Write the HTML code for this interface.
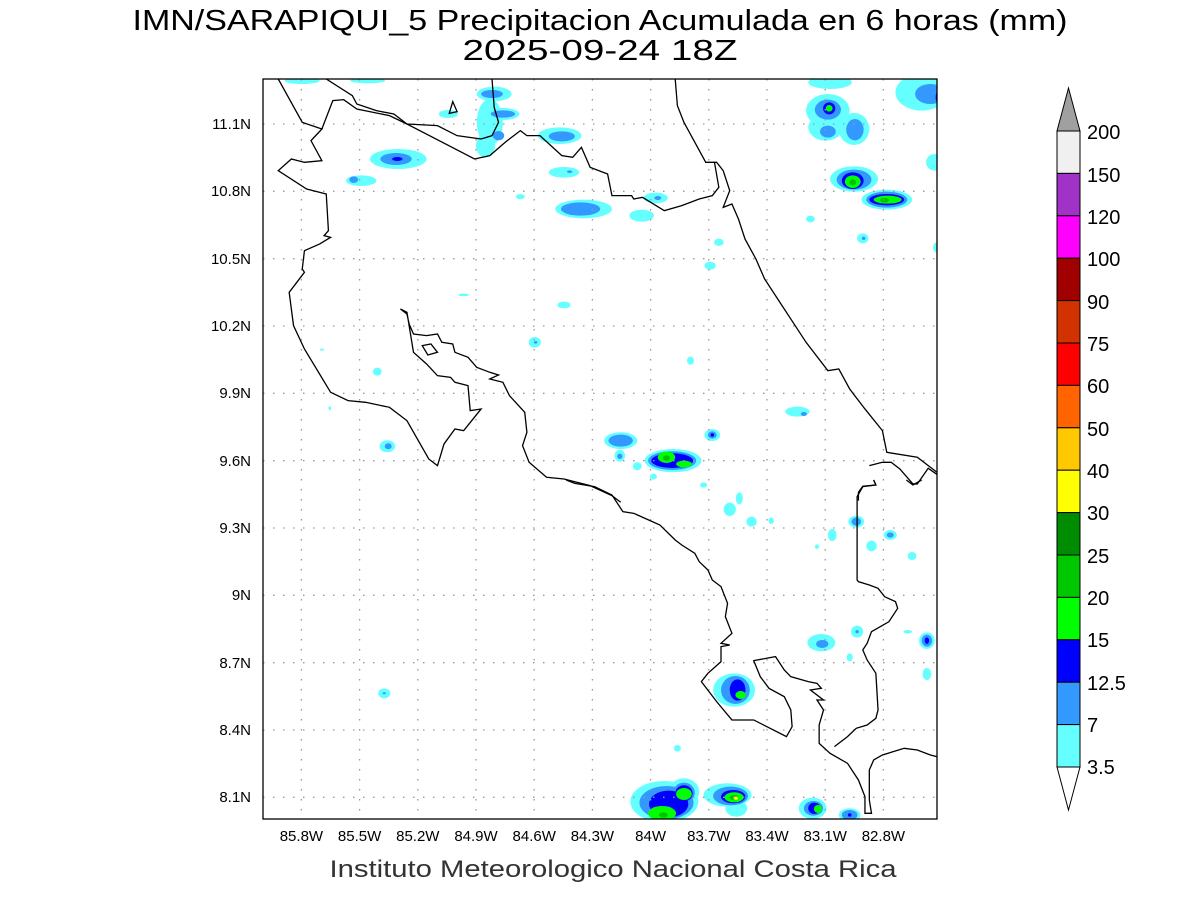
<!DOCTYPE html>
<html><head><meta charset="utf-8"><style>
html,body{margin:0;padding:0;background:#fff;}
svg{display:block;font-family:"Liberation Sans",sans-serif;}
</style></head><body>
<svg width="1200" height="900" viewBox="0 0 1200 900" xmlns="http://www.w3.org/2000/svg">
<rect width="1200" height="900" fill="#fff"/>
<text x="600" y="30" font-size="29" text-anchor="middle" textLength="935" lengthAdjust="spacingAndGlyphs">IMN/SARAPIQUI_5 Precipitacion Acumulada en 6 horas (mm)</text>
<text x="600" y="60" font-size="29" text-anchor="middle" textLength="275" lengthAdjust="spacingAndGlyphs">2025-09-24 18Z</text>
<text x="613" y="877" font-size="24" text-anchor="middle" textLength="567" lengthAdjust="spacingAndGlyphs" fill="#333">Instituto Meteorologico Nacional Costa Rica</text>

<defs><clipPath id="c"><rect x="263" y="79" width="674" height="740"/></clipPath></defs>
<g clip-path="url(#c)">
<!-- blobs zoom1 coords -->
<g transform="translate(263,79) scale(0.4362,0.3333)">
<g fill="#66ffff">
<ellipse cx="90" cy="5" rx="40" ry="10"/><ellipse cx="240" cy="5" rx="40" ry="8"/>
<ellipse cx="530" cy="45" rx="40" ry="22"/><ellipse cx="520" cy="130" rx="30" ry="70"/><ellipse cx="550" cy="105" rx="38" ry="18"/>
<ellipse cx="510" cy="200" rx="22" ry="35"/><ellipse cx="425" cy="105" rx="22" ry="12"/>
<ellipse cx="680" cy="170" rx="50" ry="25"/><ellipse cx="310" cy="240" rx="65" ry="30"/>
<ellipse cx="225" cy="305" rx="35" ry="16"/><ellipse cx="690" cy="280" rx="35" ry="16"/>
<ellipse cx="735" cy="390" rx="65" ry="28"/><ellipse cx="868" cy="410" rx="28" ry="18"/>
<ellipse cx="900" cy="357" rx="28" ry="16"/><ellipse cx="590" cy="353" rx="10" ry="8"/>
<ellipse cx="1300" cy="10" rx="50" ry="20"/><ellipse cx="1510" cy="40" rx="60" ry="55"/>
<ellipse cx="1295" cy="95" rx="50" ry="50"/><ellipse cx="1290" cy="145" rx="40" ry="40"/><ellipse cx="1355" cy="150" rx="35" ry="48"/>
<ellipse cx="1540" cy="250" rx="20" ry="25"/><ellipse cx="1355" cy="300" rx="55" ry="38"/><ellipse cx="1430" cy="362" rx="58" ry="30"/>
<ellipse cx="1255" cy="420" rx="10" ry="10"/><ellipse cx="1375" cy="478" rx="13" ry="15"/><ellipse cx="1045" cy="490" rx="11" ry="11"/>
<ellipse cx="1025" cy="560" rx="13" ry="12"/><ellipse cx="1545" cy="505" rx="9" ry="15"/>
<ellipse cx="460" cy="648" rx="12" ry="4"/><ellipse cx="690" cy="678" rx="15" ry="10"/><ellipse cx="623" cy="790" rx="14" ry="16"/>
<ellipse cx="980" cy="845" rx="8" ry="12"/><ellipse cx="262" cy="878" rx="10" ry="12"/><ellipse cx="135" cy="812" rx="5" ry="3"/><ellipse cx="153" cy="988" rx="3" ry="6"/>
<ellipse cx="285" cy="1102" rx="18" ry="18"/><ellipse cx="1225" cy="998" rx="28" ry="15"/><ellipse cx="1030" cy="1068" rx="18" ry="18"/>
<ellipse cx="820" cy="1085" rx="38" ry="25"/><ellipse cx="818" cy="1130" rx="12" ry="18"/><ellipse cx="858" cy="1162" rx="10" ry="12"/>
<ellipse cx="895" cy="1193" rx="8" ry="9"/><ellipse cx="940" cy="1145" rx="65" ry="35"/>
</g>
<g fill="#3399ff">
<ellipse cx="525" cy="45" rx="25" ry="12"/><ellipse cx="550" cy="105" rx="28" ry="11"/><ellipse cx="540" cy="170" rx="13" ry="14"/>
<ellipse cx="685" cy="172" rx="30" ry="15"/><ellipse cx="305" cy="240" rx="36" ry="18"/><ellipse cx="208" cy="302" rx="10" ry="10"/>
<ellipse cx="703" cy="278" rx="6" ry="4"/><ellipse cx="728" cy="390" rx="45" ry="20"/><ellipse cx="905" cy="357" rx="8" ry="6"/>
<ellipse cx="1530" cy="45" rx="35" ry="30"/><ellipse cx="1295" cy="92" rx="30" ry="30"/><ellipse cx="1357" cy="152" rx="20" ry="32"/>
<ellipse cx="1295" cy="158" rx="18" ry="18"/><ellipse cx="1355" cy="302" rx="40" ry="30"/><ellipse cx="1430" cy="362" rx="47" ry="24"/>
<ellipse cx="1377" cy="478" rx="4" ry="5"/><ellipse cx="625" cy="790" rx="4" ry="4"/><ellipse cx="287" cy="1102" rx="8" ry="9"/>
<ellipse cx="1240" cy="1005" rx="7" ry="6"/><ellipse cx="1030" cy="1068" rx="10" ry="11"/><ellipse cx="820" cy="1085" rx="28" ry="18"/>
<ellipse cx="818" cy="1132" rx="6" ry="8"/><ellipse cx="938" cy="1145" rx="55" ry="28"/>
</g>
<g fill="#0000ff">
<ellipse cx="308" cy="240" rx="12" ry="6"/><ellipse cx="1550" cy="55" rx="8" ry="20"/><ellipse cx="1298" cy="88" rx="14" ry="18"/>
<ellipse cx="1352" cy="305" rx="25" ry="25"/><ellipse cx="1430" cy="362" rx="40" ry="17"/><ellipse cx="1030" cy="1068" rx="4" ry="5"/>
<ellipse cx="938" cy="1145" rx="48" ry="22"/>
</g>
<g fill="#00ff00">
<ellipse cx="1298" cy="88" rx="8" ry="10"/><ellipse cx="1352" cy="308" rx="18" ry="19"/><ellipse cx="1432" cy="362" rx="32" ry="12"/>
<ellipse cx="925" cy="1135" rx="20" ry="17"/><ellipse cx="965" cy="1155" rx="18" ry="10"/>
</g>
<g fill="#00c000"><ellipse cx="1352" cy="310" rx="8" ry="9"/><ellipse cx="1425" cy="364" rx="10" ry="7"/><ellipse cx="925" cy="1137" rx="8" ry="8"/></g>
</g>
<!-- blobs zoom3 coords -->
<g transform="translate(263,480) scale(0.4362,0.3333)">
<g fill="#66ffff">
<ellipse cx="920" cy="965" rx="78" ry="62"/><ellipse cx="965" cy="935" rx="35" ry="40"/><ellipse cx="1065" cy="945" rx="55" ry="35"/><ellipse cx="1085" cy="985" rx="25" ry="25"/>
<ellipse cx="1260" cy="985" rx="32" ry="32"/><ellipse cx="1345" cy="1005" rx="25" ry="20"/><ellipse cx="1080" cy="630" rx="48" ry="50"/>
<ellipse cx="1280" cy="488" rx="32" ry="26"/><ellipse cx="1362" cy="455" rx="14" ry="18"/><ellipse cx="1478" cy="455" rx="10" ry="5"/>
<ellipse cx="1522" cy="482" rx="18" ry="25"/><ellipse cx="1345" cy="532" rx="7" ry="12"/><ellipse cx="1522" cy="582" rx="10" ry="18"/>
<ellipse cx="1360" cy="125" rx="18" ry="18"/><ellipse cx="1438" cy="165" rx="15" ry="15"/><ellipse cx="1395" cy="198" rx="12" ry="16"/>
<ellipse cx="1305" cy="165" rx="10" ry="18"/><ellipse cx="1488" cy="228" rx="10" ry="12"/><ellipse cx="1270" cy="200" rx="5" ry="7"/>
<ellipse cx="1165" cy="122" rx="6" ry="10"/><ellipse cx="1120" cy="125" rx="12" ry="15"/><ellipse cx="1070" cy="88" rx="14" ry="20"/>
<ellipse cx="1092" cy="55" rx="8" ry="18"/><ellipse cx="1010" cy="15" rx="8" ry="8"/><ellipse cx="950" cy="805" rx="8" ry="10"/><ellipse cx="278" cy="640" rx="14" ry="15"/>
</g>
<g fill="#3399ff">
<ellipse cx="925" cy="968" rx="62" ry="50"/><ellipse cx="965" cy="938" rx="25" ry="30"/><ellipse cx="1072" cy="948" rx="40" ry="28"/>
<ellipse cx="1262" cy="985" rx="22" ry="22"/><ellipse cx="1345" cy="1005" rx="18" ry="15"/><ellipse cx="1083" cy="630" rx="33" ry="42"/>
<ellipse cx="1282" cy="492" rx="14" ry="12"/><ellipse cx="1522" cy="482" rx="12" ry="18"/><ellipse cx="1360" cy="125" rx="11" ry="12"/><ellipse cx="1438" cy="165" rx="8" ry="8"/>
<ellipse cx="278" cy="640" rx="4" ry="3"/><ellipse cx="1362" cy="455" rx="4" ry="5"/>
</g>
<g fill="#0000ff">
<ellipse cx="930" cy="972" rx="45" ry="40"/><ellipse cx="965" cy="940" rx="20" ry="24"/><ellipse cx="1078" cy="950" rx="28" ry="20"/>
<ellipse cx="1264" cy="985" rx="14" ry="17"/><ellipse cx="1345" cy="1005" rx="4" ry="5"/><ellipse cx="1088" cy="630" rx="18" ry="32"/><ellipse cx="1522" cy="482" rx="5" ry="10"/>
</g>
<g fill="#00ff00">
<ellipse cx="965" cy="942" rx="18" ry="18"/><ellipse cx="915" cy="1000" rx="32" ry="22"/><ellipse cx="1080" cy="952" rx="22" ry="15"/>
<ellipse cx="1272" cy="987" rx="9" ry="12"/><ellipse cx="1095" cy="645" rx="12" ry="12"/>
</g>
<g fill="#00c000"><ellipse cx="1080" cy="953" rx="10" ry="8"/><ellipse cx="918" cy="1005" rx="10" ry="8"/></g>
<ellipse cx="1084" cy="955" rx="5" ry="5" fill="#ffff00"/>
</g>

<!-- grid -->
<g stroke="#999" stroke-width="1.3" stroke-dasharray="1.5,8.5" fill="none">
<path d="M301.4,79V819M359.6,79V819M417.8,79V819M476,79V819M534.2,79V819M592.4,79V819M650.6,79V819M708.8,79V819M767,79V819M825.2,79V819M883.4,79V819"/>
<path d="M263,124H937M263,191.3H937M263,258.7H937M263,326H937M263,393.3H937M263,460.7H937M263,528H937M263,595.3H937M263,662.7H937M263,730H937M263,797.3H937"/>
</g>

<!-- coast zoom1 -->
<g transform="translate(263,79) scale(0.4362,0.3333)" fill="none" stroke="#000" stroke-width="1.3" vector-effect="non-scaling-stroke">
<path vector-effect="non-scaling-stroke" d="M35,0 L90,130 L135,150 L110,185 L135,245 L95,250 L65,240 L35,275 L100,330 L145,345 L150,455 L140,470 L155,475 L130,495 L95,515 L90,570 L95,580 L60,640 L70,740 L95,810 L155,940 L195,965 L235,970 L290,985 L330,1025 L380,1140 L400,1160 L415,1095 L440,1050 L460,1055 L500,990 L475,995 L470,920 L440,910 L430,895 L400,890 L375,855 L345,820 L330,700 L315,690 L330,705 L335,735 L345,765 L375,770 L400,765 L410,790 L435,795 L440,820 L470,835 L490,865 L520,880 L540,888 L520,900 L550,910 L565,950 L600,1000 L605,1060 L595,1100 L610,1150 L650,1195 L690,1200 L750,1220 L800,1250 L820,1270"/>
<path vector-effect="non-scaling-stroke" d="M365,800 L385,795 L400,820 L378,828 Z"/>
<path vector-effect="non-scaling-stroke" d="M427,103 L435,68 L445,98 Z"/>
<path vector-effect="non-scaling-stroke" d="M135,150 L160,65 L185,62 L215,90 L290,110 L330,135 L485,240 L520,230 L555,190 L590,155 L605,170 L635,170 L685,230 L710,235 L730,205 L750,265 L790,285 L800,350 L845,350 L850,360 L870,355 L920,395 L960,380 L1000,360 L1030,350 L1045,325 L1035,250"/>
<path vector-effect="non-scaling-stroke" d="M145,0 L205,50 L215,75 L260,95 L300,105 L330,135 L400,140 L445,170 L500,180 L525,170 L540,130 L530,85 L525,0"/>
<path vector-effect="non-scaling-stroke" d="M945,0 L950,80 L965,130 L990,190 L1015,250 L1040,250 L1055,275 L1070,335 L1055,385 L1075,375 L1090,420 L1105,480 L1130,540 L1150,600 L1180,660 L1215,730 L1245,790 L1295,875 L1320,870 L1345,930 L1380,990 L1420,1055 L1430,1120 L1500,1135 L1530,1165 L1560,1195"/>
<path vector-effect="non-scaling-stroke" d="M1365,1265 L1365,1240 L1375,1222 L1405,1218 L1400,1203"/>
<path vector-effect="non-scaling-stroke" d="M1390,1160 L1420,1150 L1440,1150 L1460,1170 L1490,1215 L1500,1215 L1525,1168 L1560,1200"/>
</g>
<!-- coast zoom3 -->
<g transform="translate(263,480) scale(0.4362,0.3333)" fill="none" stroke="#000">
<path vector-effect="non-scaling-stroke" stroke-width="1.3" d="M695,0 L715,10 L760,20 L800,45 L825,95 L850,100 L910,135 L945,180 L960,195 L990,220 L1000,245 L1020,270 L1030,300 L1050,320 L1065,370 L1060,410 L1075,460 L1050,490 L1070,495 L1050,500 L1050,545 L1020,580 L1005,605 L1040,665 L1075,720 L1125,720 L1200,770 L1213,740 L1210,690 L1195,650 L1160,625 L1140,590 L1125,542 L1175,530 L1195,570 L1210,590 L1250,605 L1270,610 L1280,625 L1255,630 L1285,660 L1270,660 L1285,690 L1275,735 L1275,790 L1300,820 L1340,850 L1365,900 L1380,950 L1380,1000 L1395,1000 L1390,960 L1390,870 L1400,840 L1420,825 L1470,805 L1500,810 L1530,825 L1560,835"/>
<path vector-effect="non-scaling-stroke" stroke-width="1.3" d="M1310,800 L1340,770 L1360,745 L1385,735 L1405,715 L1410,690 L1405,580 L1385,540 L1375,510 L1385,490 L1395,455 L1435,425 L1455,385 L1450,365 L1425,350 L1410,325 L1390,315 L1365,305 L1362,300 L1362,50 L1375,20 L1405,15 L1400,0"/>
<path vector-effect="non-scaling-stroke" stroke-width="1.3" d="M1475,0 L1490,15 L1510,0"/>
</g>
</g>
<rect x="263" y="79" width="674" height="740" fill="none" stroke="#000" stroke-width="1.3"/>

<!-- axis labels -->
<g font-size="15" text-anchor="middle">
<text x="301.4" y="841">85.8W</text><text x="359.6" y="841">85.5W</text><text x="417.8" y="841">85.2W</text><text x="476" y="841">84.9W</text>
<text x="534.2" y="841">84.6W</text><text x="592.4" y="841">84.3W</text><text x="650.6" y="841">84W</text><text x="708.8" y="841">83.7W</text>
<text x="767" y="841">83.4W</text><text x="825.2" y="841">83.1W</text><text x="883.4" y="841">82.8W</text>
</g>
<g font-size="15" text-anchor="end">
<text x="251" y="129">11.1N</text><text x="251" y="196">10.8N</text><text x="251" y="264">10.5N</text><text x="251" y="331">10.2N</text>
<text x="251" y="398">9.9N</text><text x="251" y="466">9.6N</text><text x="251" y="533">9.3N</text><text x="251" y="600">9N</text>
<text x="251" y="668">8.7N</text><text x="251" y="735">8.4N</text><text x="251" y="802">8.1N</text>
</g>

<!-- colorbar -->
<g stroke="#000" stroke-width="1">
<polygon points="1057,131 1080,131 1068.5,88" fill="#a0a0a0"/>
<rect x="1057" y="131" width="23" height="42.4" fill="#f0f0f0"/>
<rect x="1057" y="173.4" width="23" height="42.4" fill="#a032c8"/>
<rect x="1057" y="215.8" width="23" height="42.4" fill="#ff00ff"/>
<rect x="1057" y="258.2" width="23" height="42.4" fill="#a00000"/>
<rect x="1057" y="300.6" width="23" height="42.4" fill="#d23200"/>
<rect x="1057" y="343" width="23" height="42.4" fill="#ff0000"/>
<rect x="1057" y="385.4" width="23" height="42.4" fill="#ff6400"/>
<rect x="1057" y="427.8" width="23" height="42.4" fill="#ffc800"/>
<rect x="1057" y="470.2" width="23" height="42.4" fill="#ffff00"/>
<rect x="1057" y="512.6" width="23" height="42.4" fill="#008c00"/>
<rect x="1057" y="555" width="23" height="42.4" fill="#00c800"/>
<rect x="1057" y="597.4" width="23" height="42.4" fill="#00ff00"/>
<rect x="1057" y="639.8" width="23" height="42.4" fill="#0000ff"/>
<rect x="1057" y="682.2" width="23" height="42.4" fill="#3399ff"/>
<rect x="1057" y="724.6" width="23" height="42.4" fill="#66ffff"/>
<polygon points="1057,767 1080,767 1068.5,810" fill="#fff"/>
</g>
<g font-size="20">
<text x="1087" y="139">200</text><text x="1087" y="182">150</text><text x="1087" y="224">120</text><text x="1087" y="266">100</text>
<text x="1087" y="309">90</text><text x="1087" y="351">75</text><text x="1087" y="393">60</text><text x="1087" y="436">50</text>
<text x="1087" y="478">40</text><text x="1087" y="520">30</text><text x="1087" y="563">25</text><text x="1087" y="605">20</text>
<text x="1087" y="647">15</text><text x="1087" y="690">12.5</text><text x="1087" y="732">7</text><text x="1087" y="774">3.5</text>
</g>
</svg>
</body></html>
